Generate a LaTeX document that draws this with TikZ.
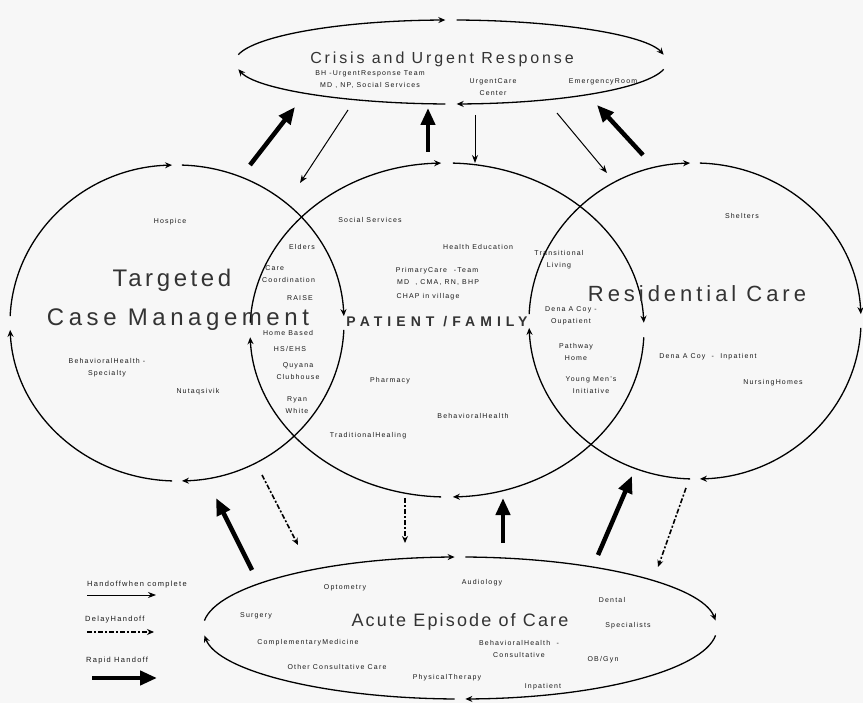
\documentclass[tikz,border=0pt]{standalone}
\usepackage{fontspec}
\setmainfont{Liberation Sans}
\usepackage{tikz}
\usetikzlibrary{arrows.meta}

\begin{document}
\begin{tikzpicture}[
    x=1pt, y=1pt,
    ring/.style={line width=1.3pt, -{Stealth[length=7pt, width=6pt]}},
    handoff/.style={line width=1pt, -{Stealth[length=8pt, width=6pt]}},
    delay/.style={line width=1.6pt, dash pattern=on 5pt off 2pt on 2pt off 2pt, -{Stealth[length=7pt, width=6pt]}},
    rapid/.style={line width=4.5pt, -{Triangle[length=17pt, width=14pt]}},
    lbl/.style={inner sep=0pt, align=center, text=black!90, font=\fontsize{7}{12}\selectfont\addfontfeatures{LetterSpace=17}},
    title/.style={inner sep=0pt, anchor=base, text=black!80}
]
\useasboundingbox (0,0) rectangle (863,-703);
\fill[black!3] (0,0) rectangle (863,-703);

% rings: name/x/y/x radius/y radius/gap at top+bottom/gap at sides
\foreach \n/\cx/\cy/\rx/\ry/\gh/\gv in {crisis/451/-62/216/42/1.5/10, tcm/177/-323/167/158/1.7/2.5, pf/447/-330/197/167/1.7/2.5, rc/695/-321/166/158/1.7/2.5, acute/460/-628/257/71/1.2/6} {
    \coordinate (\n) at (\cx,\cy);
    \foreach \a/\b/\ga/\gb in {180/90/\gv/\gh, 90/0/\gh/\gv, 0/-90/\gv/\gh, -90/-180/\gh/\gv} {
        \pgfmathsetmacro\sa{\a-\ga}
        \pgfmathsetmacro\ea{\b+\gb}
        \draw[ring] (\n) ++(\sa:\rx pt and \ry pt) arc[start angle=\sa, end angle=\ea, x radius=\rx, y radius=\ry];
    }
}

% connector ends
\coordinate (up1s) at (250,-165); \coordinate (up1t) at (295,-107);
\coordinate (dn1s) at (348,-110); \coordinate (dn1t) at (300,-183);
\coordinate (up2s) at (428,-152); \coordinate (up2t) at (428,-108);
\coordinate (dn2s) at (475,-115); \coordinate (dn2t) at (475,-163);
\coordinate (dn3s) at (557,-113); \coordinate (dn3t) at (607,-173);
\coordinate (up3s) at (643,-155); \coordinate (up3t) at (597,-105);
\coordinate (dl1s) at (262,-475); \coordinate (dl1t) at (298,-545);
\coordinate (rp1s) at (252,-570); \coordinate (rp1t) at (216,-498);
\coordinate (dl2s) at (405,-498); \coordinate (dl2t) at (405,-543);
\coordinate (rp2s) at (503,-543); \coordinate (rp2t) at (503,-498);
\coordinate (rp3s) at (598,-555); \coordinate (rp3t) at (632,-476);
\coordinate (dl3s) at (686,-488); \coordinate (dl3t) at (658,-567);
% legend ends
\coordinate (lg1s) at (87,-595);  \coordinate (lg1t) at (156,-595);
\coordinate (lg2s) at (87,-632);  \coordinate (lg2t) at (154,-632);
\coordinate (lg3s) at (92,-678);  \coordinate (lg3t) at (157,-678);

\foreach \s/\t/\st in {up1s/up1t/rapid, dn1s/dn1t/handoff, up2s/up2t/rapid, dn2s/dn2t/handoff, dn3s/dn3t/handoff, up3s/up3t/rapid, dl1s/dl1t/delay, rp1s/rp1t/rapid, dl2s/dl2t/delay, rp2s/rp2t/rapid, rp3s/rp3t/rapid, dl3s/dl3t/delay, lg1s/lg1t/handoff, lg2s/lg2t/delay, lg3s/lg3t/rapid}
    \draw[\st] (\s) -- (\t);

% titles
\node[title, font=\fontsize{16}{16}\selectfont\addfontfeatures{LetterSpace=18}] (crisisT) at (442,-64) {Crisis and Urgent Response};
\node[title, font=\fontsize{24}{24}\selectfont\addfontfeatures{LetterSpace=15}] (tcmT1) at (172,-287) {Targeted};
\node[title, font=\fontsize{24}{24}\selectfont\addfontfeatures{LetterSpace=19}] (tcmT2) at (178,-326) {Case Management};
\node[title, font=\fontsize{14}{14}\selectfont\bfseries\addfontfeatures{LetterSpace=36}] (pfT) at (437,-327) {PATIENT /FAMILY};
\node[title, font=\fontsize{22}{22}\selectfont\addfontfeatures{LetterSpace=18}] (rcT) at (697,-302) {Residential Care};
\node[title, font=\fontsize{18}{18}\selectfont\addfontfeatures{LetterSpace=12}] (acuteT) at (460,-626) {Acute Episode of Care};

% crisis and urgent response
\node[lbl] (bhteam) at (370,-80) {BH -UrgentResponse Team\\MD , NP, Social Services};
\node[lbl] (urgent) at (493,-87) {UrgentCare\\Center};
\node[lbl] (er) at (603,-82) {EmergencyRoom};

% targeted case management
\node[lbl] (hospice) at (170,-222) {Hospice};
\node[lbl] (bhspec) at (107,-368) {BehavioralHealth -\\Specialty};
\node[lbl] (nutaq) at (198,-392) {Nutaqsivik};

% shared with patient/family
\node[lbl] (elders) at (302,-247) {Elders};
\node[lbl, align=left, anchor=west] (carecoord) at (262,-274) {\ Care\\Coordination};
\node[lbl] (raise) at (300,-298) {RAISE};
\node[lbl] (homebased) at (288,-333) {Home Based};
\node[lbl] (hsehs) at (290,-349) {HS/EHS};
\node[lbl] (quyana) at (298,-371) {Quyana\\Clubhouse};
\node[lbl] (ryan) at (297,-405) {Ryan\\White};

% patient/family
\node[lbl] (socserv) at (370,-220) {Social Services};
\node[lbl] (healthed) at (478,-247) {Health Education};
\node[lbl] (primary) at (437,-271) {PrimaryCare\quad -Team};
\node[lbl] (mdteam) at (438,-283) {MD\ \ , CMA, RN, BHP};
\node[lbl] (chap) at (428,-297) {CHAP in village};
\node[lbl] (pharmacy) at (390,-381) {Pharmacy};
\node[lbl] (bhealth) at (473,-416) {BehavioralHealth};
\node[lbl] (tradheal) at (368,-436) {TraditionalHealing};

% shared with residential care
\node[lbl] (translive) at (559,-260) {Transitional\\Living};
\node[lbl] (denaout) at (571,-316) {Dena A Coy -\\Oupatient};
\node[lbl] (pathway) at (576,-352) {Pathway\\Home};
\node[lbl] (youngmen) at (591,-385) {Young Men's\\Initiative};

% residential care
\node[lbl] (shelters) at (742,-216) {Shelters};
\node[lbl] (denain) at (708,-357) {Dena A Coy\ \ -\ \ Inpatient};
\node[lbl] (nursing) at (773,-383) {NursingHomes};

% acute episode of care
\node[lbl] (optometry) at (345,-588) {Optometry};
\node[lbl] (surgery) at (256,-616) {Surgery};
\node[lbl] (compmed) at (308,-643) {ComplementaryMedicine};
\node[lbl] (otherc) at (337,-667) {Other Consultative Care};
\node[lbl] (physther) at (447,-678) {PhysicalTherapy};
\node[lbl] (audiology) at (482,-583) {Audiology};
\node[lbl] (dental) at (612,-600) {Dental};
\node[lbl] (specialists) at (628,-626) {Specialists};
\node[lbl] (bhconsult) at (519,-649) {BehavioralHealth\ \ -\\Consultative};
\node[lbl] (obgyn) at (603,-660) {OB/Gyn};
\node[lbl] (inpatient) at (543,-687) {Inpatient};

% legend
\node[lbl, anchor=west, font=\fontsize{7.5}{12}\selectfont\addfontfeatures{LetterSpace=17}] (lgtxt1) at (87,-585) {Handoffwhen complete};
\node[lbl, anchor=west, font=\fontsize{7.5}{12}\selectfont\addfontfeatures{LetterSpace=17}] (lgtxt2) at (85,-620) {DelayHandoff};
\node[lbl, anchor=west, font=\fontsize{7.5}{12}\selectfont\addfontfeatures{LetterSpace=17}] (lgtxt3) at (86,-661) {Rapid Handoff};
\end{tikzpicture}
\end{document}
